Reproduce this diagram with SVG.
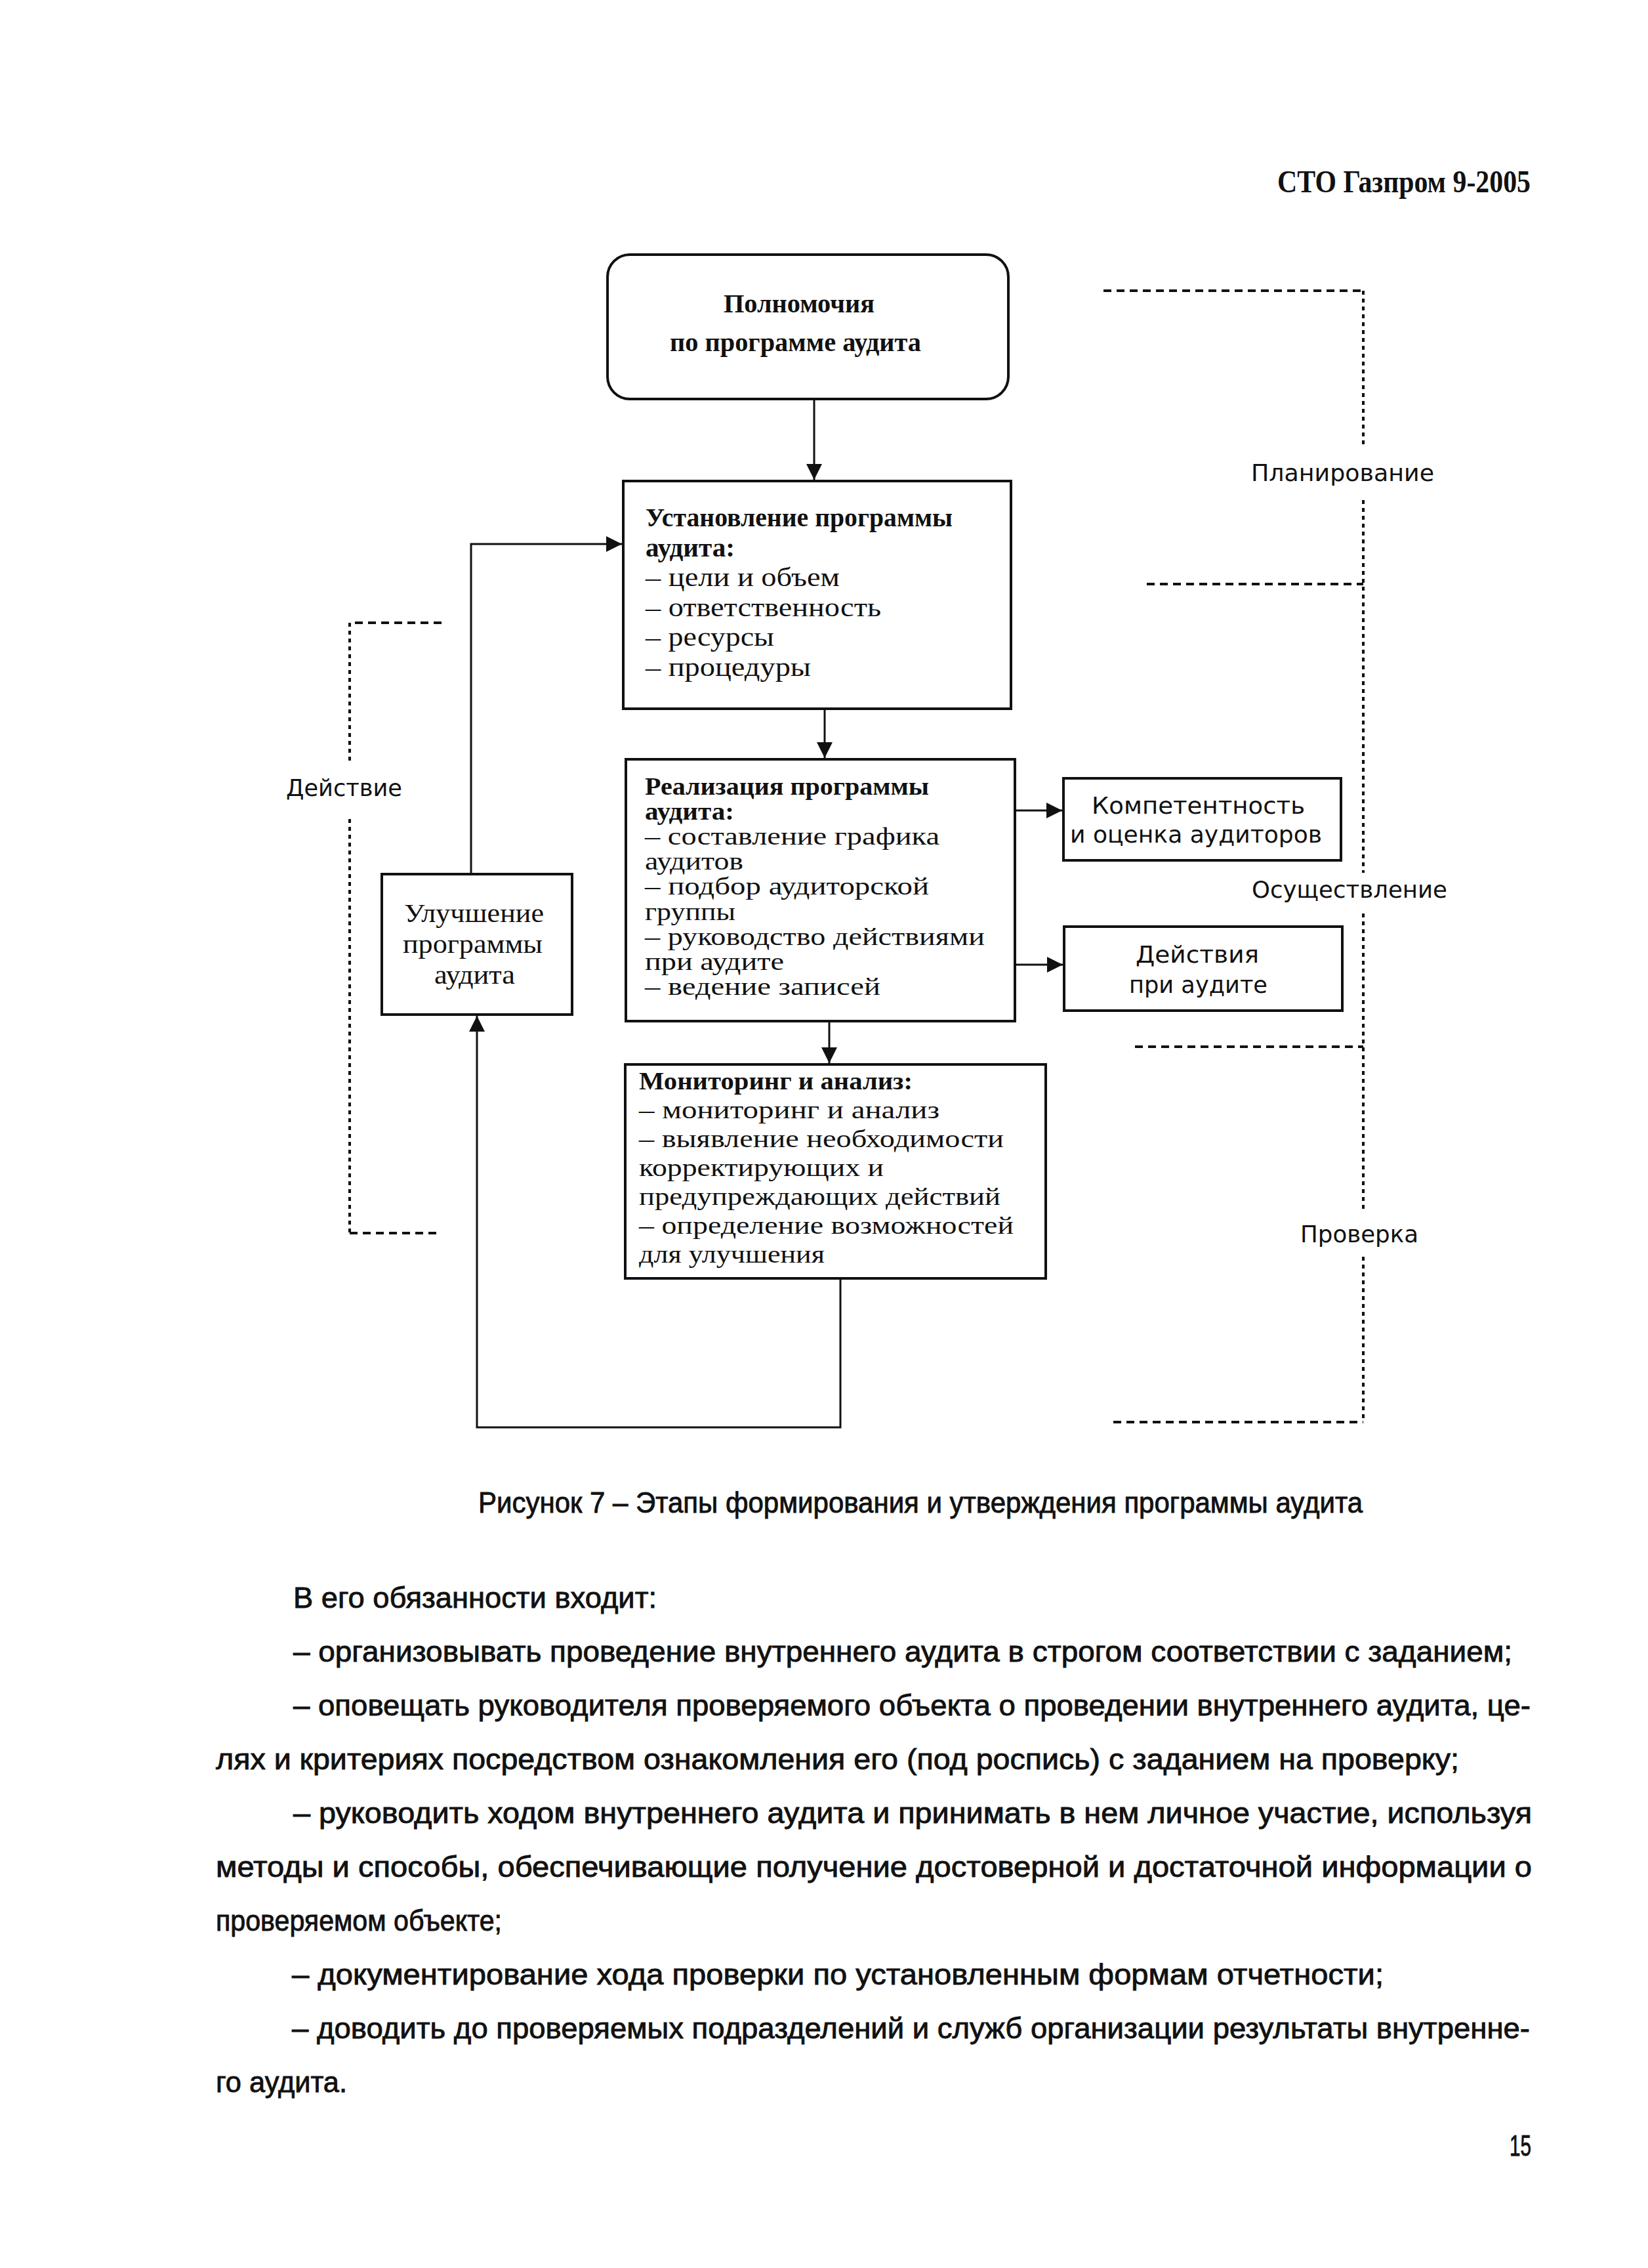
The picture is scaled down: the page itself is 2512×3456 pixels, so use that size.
<svg xmlns="http://www.w3.org/2000/svg" width="2512" height="3456" viewBox="0 0 2512 3456">
<defs>
<marker id="ah" viewBox="0 0 10 10" refX="10" refY="5" markerWidth="9" markerHeight="8" markerUnits="strokeWidth" orient="auto">
<path d="M0,0 L10,5 L0,10 z" fill="#111"/>
</marker>
<style>
.box{fill:none;stroke:#111;stroke-width:4}
.con{fill:none;stroke:#111;stroke-width:3}
.dh{fill:none;stroke:#111;stroke-width:4;stroke-dasharray:12 8}
.dv{fill:none;stroke:#111;stroke-width:4;stroke-dasharray:6 6}
.ser{font-family:"Liberation Serif","Times New Roman",serif;fill:#111}
.b{font-weight:bold}
.t2{font-size:40px}
.t3{font-size:38px}
.san{font-family:"DejaVu Sans","Liberation Sans",sans-serif;fill:#111}
.body{font-family:"Liberation Sans Narrow","Liberation Sans",Arial,sans-serif;font-size:45px;fill:#111;stroke:#111;stroke-width:0.9}
</style>
</defs>
<rect width="2512" height="3456" fill="#fff"/>

<text class="ser b" x="1947" y="293" font-size="48" textLength="386" lengthAdjust="spacingAndGlyphs">СТО Газпром 9-2005</text>

<g id="node-polnomochiya">
<rect class="box" x="926" y="388" width="611" height="220" rx="34"/>
<text class="ser b" x="1103" y="476" font-size="40" textLength="230" lengthAdjust="spacingAndGlyphs">Полномочия</text>
<text class="ser b" x="1021" y="535" font-size="40" textLength="383" lengthAdjust="spacingAndGlyphs">по программе аудита</text>
</g>

<g id="node-ustanovlenie">
<rect class="box" x="950" y="733" width="591" height="347"/>
<text class="ser b t2" x="984" y="802" textLength="468" lengthAdjust="spacingAndGlyphs">Установление программы</text>
<text class="ser b t2" x="984" y="848" textLength="136" lengthAdjust="spacingAndGlyphs">аудита:</text>
<text class="ser t2" x="984" y="893" textLength="296" lengthAdjust="spacingAndGlyphs">– цели и объем</text>
<text class="ser t2" x="984" y="939" textLength="359" lengthAdjust="spacingAndGlyphs">– ответственность</text>
<text class="ser t2" x="984" y="984" textLength="196" lengthAdjust="spacingAndGlyphs">– ресурсы</text>
<text class="ser t2" x="984" y="1030" textLength="252" lengthAdjust="spacingAndGlyphs">– процедуры</text>
</g>

<g id="node-realizaciya">
<rect class="box" x="954" y="1157" width="593" height="399"/>
<text class="ser b t3" x="983" y="1211" textLength="433" lengthAdjust="spacingAndGlyphs">Реализация программы</text>
<text class="ser b t3" x="983" y="1249" textLength="136" lengthAdjust="spacingAndGlyphs">аудита:</text>
<text class="ser t3" x="983" y="1287" textLength="449" lengthAdjust="spacingAndGlyphs">– составление графика</text>
<text class="ser t3" x="983" y="1325" textLength="150" lengthAdjust="spacingAndGlyphs">аудитов</text>
<text class="ser t3" x="983" y="1363" textLength="433" lengthAdjust="spacingAndGlyphs">– подбор аудиторской</text>
<text class="ser t3" x="983" y="1402" textLength="138" lengthAdjust="spacingAndGlyphs">группы</text>
<text class="ser t3" x="983" y="1440" textLength="518" lengthAdjust="spacingAndGlyphs">– руководство действиями</text>
<text class="ser t3" x="983" y="1478" textLength="212" lengthAdjust="spacingAndGlyphs">при аудите</text>
<text class="ser t3" x="983" y="1516" textLength="359" lengthAdjust="spacingAndGlyphs">– ведение записей</text>
</g>

<g id="node-kompetentnost">
<rect class="box" x="1621" y="1186" width="423" height="125"/>
<text class="san" x="1664" y="1240" font-size="36" textLength="325" lengthAdjust="spacingAndGlyphs">Компетентность</text>
<text class="san" x="1631" y="1284" font-size="36" textLength="384" lengthAdjust="spacingAndGlyphs">и оценка аудиторов</text>
</g>

<g id="node-deystviya">
<rect class="box" x="1622" y="1412" width="424" height="128"/>
<text class="san" x="1731" y="1467" font-size="36" textLength="188" lengthAdjust="spacingAndGlyphs">Действия</text>
<text class="san" x="1721" y="1513" font-size="36" textLength="211" lengthAdjust="spacingAndGlyphs">при аудите</text>
</g>

<g id="node-monitoring">
<rect class="box" x="953" y="1622" width="641" height="326"/>
<text class="ser b t3" x="974" y="1660" textLength="417" lengthAdjust="spacingAndGlyphs">Мониторинг и анализ:</text>
<text class="ser t3" x="974" y="1704" textLength="458" lengthAdjust="spacingAndGlyphs">– мониторинг и анализ</text>
<text class="ser t3" x="974" y="1748" textLength="556" lengthAdjust="spacingAndGlyphs">– выявление необходимости</text>
<text class="ser t3" x="974" y="1792" textLength="373" lengthAdjust="spacingAndGlyphs">корректирующих и</text>
<text class="ser t3" x="974" y="1836" textLength="551" lengthAdjust="spacingAndGlyphs">предупреждающих действий</text>
<text class="ser t3" x="974" y="1880" textLength="571" lengthAdjust="spacingAndGlyphs">– определение возможностей</text>
<text class="ser t3" x="974" y="1924" textLength="283" lengthAdjust="spacingAndGlyphs">для улучшения</text>
</g>

<g id="node-uluchshenie">
<rect class="box" x="582" y="1332" width="290" height="214"/>
<text class="ser t2" x="616" y="1405" textLength="213" lengthAdjust="spacingAndGlyphs">Улучшение</text>
<text class="ser t2" x="614" y="1452" textLength="213" lengthAdjust="spacingAndGlyphs">программы</text>
<text class="ser t2" x="662" y="1499" textLength="123" lengthAdjust="spacingAndGlyphs">аудита</text>
</g>

<g id="connectors">
<line class="con" x1="1241" y1="608" x2="1241" y2="731" marker-end="url(#ah)"/>
<line class="con" x1="1257" y1="1080" x2="1257" y2="1155" marker-end="url(#ah)"/>
<line class="con" x1="1264" y1="1556" x2="1264" y2="1620" marker-end="url(#ah)"/>
<line class="con" x1="1547" y1="1235" x2="1619" y2="1235" marker-end="url(#ah)"/>
<line class="con" x1="1547" y1="1470" x2="1620" y2="1470" marker-end="url(#ah)"/>
<polyline class="con" points="1281,1948 1281,2175 727,2175 727,1548" marker-end="url(#ah)"/>
<polyline class="con" points="718,1332 718,829 948,829" marker-end="url(#ah)"/>
</g>

<g id="phases">
<line class="dh" x1="1682" y1="443" x2="2078" y2="443"/>
<line class="dv" x1="2078" y1="443" x2="2078" y2="678"/>
<line class="dv" x1="2078" y1="762" x2="2078" y2="1330"/>
<line class="dh" x1="1748" y1="890" x2="2078" y2="890"/>
<line class="dv" x1="2078" y1="1392" x2="2078" y2="1846"/>
<line class="dh" x1="1730" y1="1595" x2="2078" y2="1595"/>
<line class="dv" x1="2078" y1="1915" x2="2078" y2="2167"/>
<line class="dh" x1="1697" y1="2167" x2="2078" y2="2167"/>
<text class="san" x="1907" y="733" font-size="36" textLength="279" lengthAdjust="spacingAndGlyphs">Планирование</text>
<text class="san" x="1908" y="1368" font-size="36" textLength="298" lengthAdjust="spacingAndGlyphs">Осуществление</text>
<text class="san" x="1982" y="1893" font-size="36" textLength="180" lengthAdjust="spacingAndGlyphs">Проверка</text>
<line class="dh" x1="673" y1="949" x2="533" y2="949"/>
<line class="dv" x1="533" y1="949" x2="533" y2="1163"/>
<line class="dv" x1="533" y1="1248" x2="533" y2="1879"/>
<line class="dh" x1="533" y1="1879" x2="673" y2="1879"/>
<text class="san" x="436" y="1213" font-size="36" textLength="177" lengthAdjust="spacingAndGlyphs">Действие</text>
</g>

<text class="body" x="729" y="2305" textLength="1348" lengthAdjust="spacingAndGlyphs">Рисунок 7 – Этапы формирования и утверждения программы аудита</text>

<g id="body-text">
<text class="body" x="447" y="2450" textLength="554" lengthAdjust="spacingAndGlyphs">В его обязанности входит:</text>
<text class="body" x="447" y="2532" textLength="1858" lengthAdjust="spacingAndGlyphs">– организовывать проведение внутреннего аудита в строгом соответствии с заданием;</text>
<text class="body" x="447" y="2614" textLength="1886" lengthAdjust="spacingAndGlyphs">– оповещать руководителя проверяемого объекта о проведении внутреннего аудита, це-</text>
<text class="body" x="329" y="2696" textLength="1895" lengthAdjust="spacingAndGlyphs">лях и критериях посредством ознакомления его (под роспись) с заданием на проверку;</text>
<text class="body" x="447" y="2778" textLength="1888" lengthAdjust="spacingAndGlyphs">– руководить ходом внутреннего аудита и принимать в нем личное участие, используя</text>
<text class="body" x="329" y="2860" textLength="2006" lengthAdjust="spacingAndGlyphs">методы и способы, обеспечивающие получение достоверной и достаточной информации о</text>
<text class="body" x="329" y="2942" textLength="436" lengthAdjust="spacingAndGlyphs">проверяемом объекте;</text>
<text class="body" x="445" y="3024" textLength="1664" lengthAdjust="spacingAndGlyphs">– документирование хода проверки по установленным формам отчетности;</text>
<text class="body" x="445" y="3106" textLength="1887" lengthAdjust="spacingAndGlyphs">– доводить до проверяемых подразделений и служб организации результаты внутренне-</text>
<text class="body" x="329" y="3188" textLength="200" lengthAdjust="spacingAndGlyphs">го аудита.</text>
<text class="body" x="2301" y="3285" textLength="33" lengthAdjust="spacingAndGlyphs">15</text>
</g>
</svg>
